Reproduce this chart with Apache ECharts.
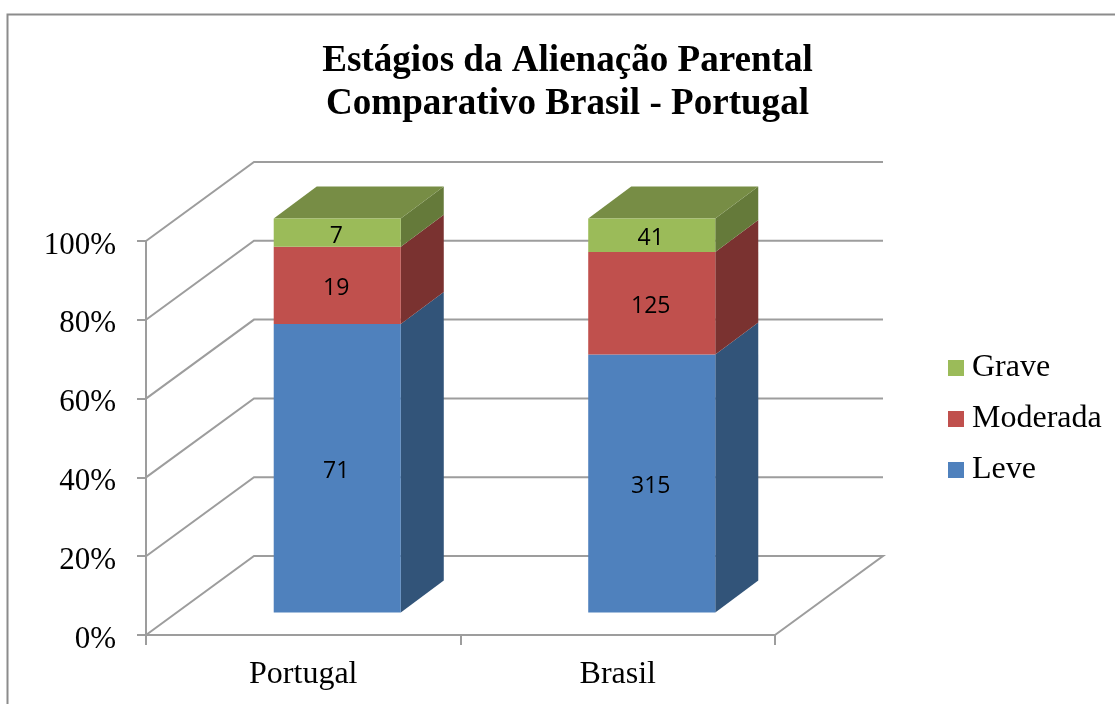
<!DOCTYPE html>
<html>
<head>
<meta charset="utf-8">
<script src="https://cdn.jsdelivr.net/npm/echarts@6/dist/echarts.min.js"></script>
<style>html,body{margin:0;padding:0;background:#fff}#c{width:1115px;height:704px}</style>
</head>
<body>
<div id="c"></div>
<script>
const categories = ['Portugal', 'Brasil'];
const leve = [71, 315];
const moderada = [19, 125];
const grave = [7, 41];
const yTicks = [0, 20, 40, 60, 80, 100];

const LINE = '#9d9d9d';
const SERIF = '"Liberation Serif", serif';
const totals = categories.map((_, i) => leve[i] + moderada[i] + grave[i]);

function pct(i, parts) {
  return parts.reduce((s, a) => s + a[i], 0) / totals[i] * 100;
}
function stackData(lower, own) {
  return categories.map((_, i) => [i, pct(i, lower), pct(i, lower.concat([own])), own[i]]);
}

function renderWall(params, api) {
  const v = api.value(0);
  const band = api.size([1, 0])[0];
  const a = api.coord([0, v]);
  const b = api.coord([categories.length - 1, v]);
  const left = a[0] - band / 2, right = b[0] + band / 2, y = a[1];
  const dx = 108, dy = -79;
  const points = [[left, y], [left + dx, y + dy], [right + dx, y + dy]];
  if (v === 0) points.push([right, y]);
  return {
    type: 'polyline', silent: true,
    shape: { points },
    style: { fill: null, stroke: LINE, lineWidth: 2 }
  };
}

function barRenderer(face, side, topFace) {
  return function (params, api) {
    const band = api.size([1, 0])[0];
    const bw = band * 0.404;
    const p0 = api.coord([api.value(0), api.value(1)]);
    const p1 = api.coord([api.value(0), api.value(2)]);
    const x0 = p0[0] + 34 - bw / 2, x1 = x0 + bw;
    const yb = p0[1] - 22.6, yt = p1[1] - 22.6;
    const dx = 43, dy = -32;
    const children = [
      { type: 'polygon', shape: { points: [[x1, yb], [x1 + dx, yb + dy], [x1 + dx, yt + dy], [x1, yt]] },
        style: { fill: side } },
      { type: 'rect', shape: { x: x0, y: yt, width: bw, height: yb - yt },
        style: { fill: face } },
      { type: 'text', x: (x0 + x1) / 2 - 1, y: (yb + yt) / 2 + 3.5,
        style: { text: String(api.value(3)), fill: '#000', font: '23px "Open Sans", sans-serif',
                 align: 'center', verticalAlign: 'middle' } }
    ];
    if (topFace) {
      children.splice(1, 0, { type: 'polygon',
        shape: { points: [[x0, yt], [x0 + dx, yt + dy], [x1 + dx, yt + dy], [x1, yt]] },
        style: { fill: topFace } });
    }
    return { type: 'group', children };
  };
}

const chart = echarts.init(document.getElementById('c'), null, { renderer: 'canvas' });
chart.setOption({
  animation: false,
  backgroundColor: '#fff',
  title: {
    text: 'Estágios da Alienação Parental\nComparativo Brasil - Portugal',
    left: 562.5, top: 34.5, textAlign: 'center',
    textStyle: { fontFamily: SERIF, fontWeight: 'bold', fontSize: 37.1, lineHeight: 43, color: '#000' }
  },
  legend: {
    orient: 'vertical', left: 943, top: 347,
    data: ['Grave', 'Moderada', 'Leve'],
    itemWidth: 16, itemHeight: 16, itemGap: 19, icon: 'rect',
    textStyle: { fontFamily: SERIF, fontSize: 32, color: '#000', padding: [0, 0, 0, 3] },
    selectedMode: false
  },
  grid: { left: 146, top: 241, width: 629, height: 394 },
  xAxis: {
    type: 'category', data: categories,
    axisLine: { lineStyle: { color: LINE, width: 2 } },
    axisTick: { show: true, length: 10, lineStyle: { color: LINE, width: 2 } },
    axisLabel: { fontFamily: SERIF, fontSize: 32, color: '#000', margin: 24 }
  },
  yAxis: {
    type: 'value', min: 0, max: 100, interval: 20,
    axisLine: { show: true, onZero: false, lineStyle: { color: LINE, width: 2 } },
    axisTick: { show: true, length: 9, lineStyle: { color: LINE, width: 2 } },
    axisLabel: { fontFamily: SERIF, fontSize: 31, color: '#000', margin: 30, verticalAlign: 'top', lineHeight: 9, formatter: '{value}%' },
    splitLine: { show: false }
  },
  graphic: [{
    type: 'rect', silent: true, z: -10,
    shape: { x: 7.5, y: 14.5, width: 1200, height: 800 },
    style: { fill: 'none', stroke: '#8c8c8c', lineWidth: 2 }
  }],
  series: [
    { type: 'custom', name: 'wall', z: 1, renderItem: renderWall, data: yTicks.map(v => [v]),
      encode: { y: 0 }, silent: true, clip: false },
    { type: 'custom', name: 'Leve', z: 2, clip: false,
      itemStyle: { color: '#4f81bd' }, renderItem: barRenderer('#4f81bd', '#325479'),
      data: stackData([], leve) },
    { type: 'custom', name: 'Moderada', z: 3, clip: false,
      itemStyle: { color: '#c0504d' }, renderItem: barRenderer('#c0504d', '#7a3230'),
      data: stackData([leve], moderada) },
    { type: 'custom', name: 'Grave', z: 4, clip: false,
      itemStyle: { color: '#9bbb59' }, renderItem: barRenderer('#9bbb59', '#657a3a', '#778d45'),
      data: stackData([leve, moderada], grave) }
  ]
});
</script>
</body>
</html>
